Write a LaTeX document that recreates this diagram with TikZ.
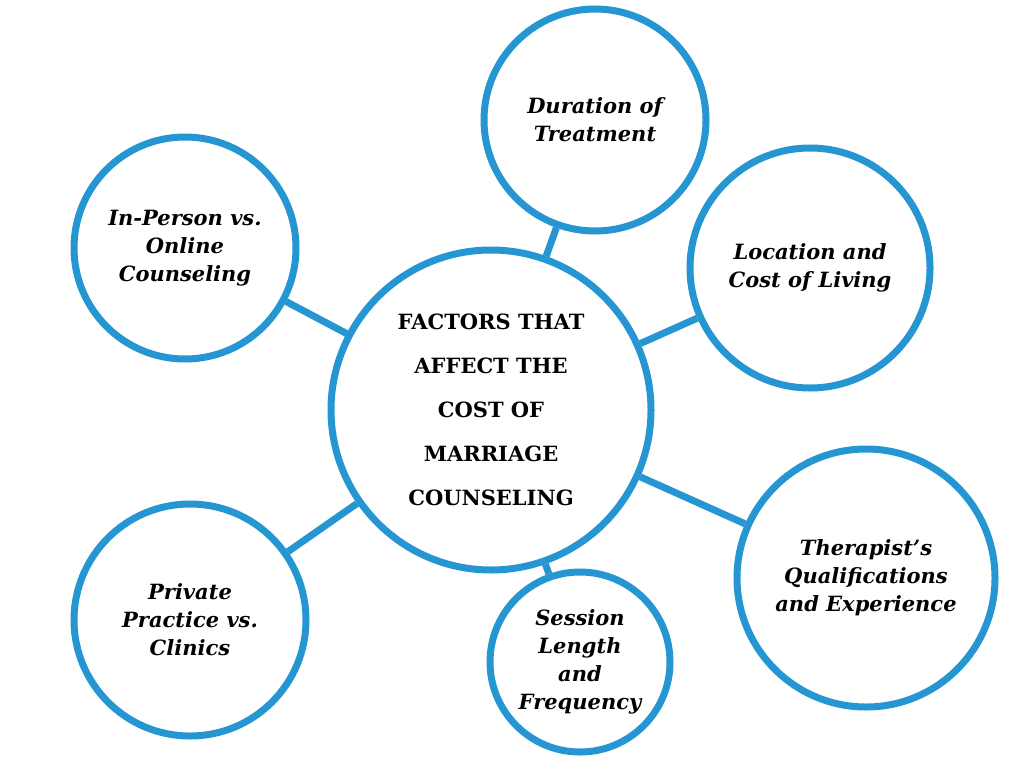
\documentclass[tikz,border=0pt]{standalone}
\usepackage{fontspec}
\setmainfont{DejaVu Serif}
\definecolor{cb}{RGB}{38,150,210}
\begin{document}
\begin{tikzpicture}[x=1pt,y=-1pt,
 circ/.style={circle,draw=cb,line width=7pt,fill=white,align=center,inner sep=0pt,font=\fontsize{21}{28}\selectfont\bfseries\itshape},
 conn/.style={draw=cb,line width=7pt}]
\useasboundingbox (0,0) rectangle (1024,768);
\node[circ,minimum size=320pt,font=\fontsize{21}{44}\selectfont\bfseries] (c) at (491,410) {FACTORS THAT\\AFFECT THE\\COST OF\\MARRIAGE\\COUNSELING};
\node[circ,minimum size=222pt] (d) at (595,120) {Duration of\\Treatment};
\node[circ,minimum size=222pt] (i) at (185,248) {In-Person vs.\\Online\\Counseling};
\node[circ,minimum size=240pt] (l) at (810,268) {Location and\\Cost of Living};
\node[circ,minimum size=258pt] (t) at (866,578) {Therapist's\\Qualifications\\and Experience};
\node[circ,minimum size=180pt] (s) at (580,662) {Session\\Length\\and\\Frequency};
\node[circ,minimum size=232pt] (p) at (190,620) {Private\\Practice vs.\\Clinics};
\foreach \n in {d,i,l,t,s,p} \draw[conn] (c) -- (\n);
\end{tikzpicture}
\end{document}
